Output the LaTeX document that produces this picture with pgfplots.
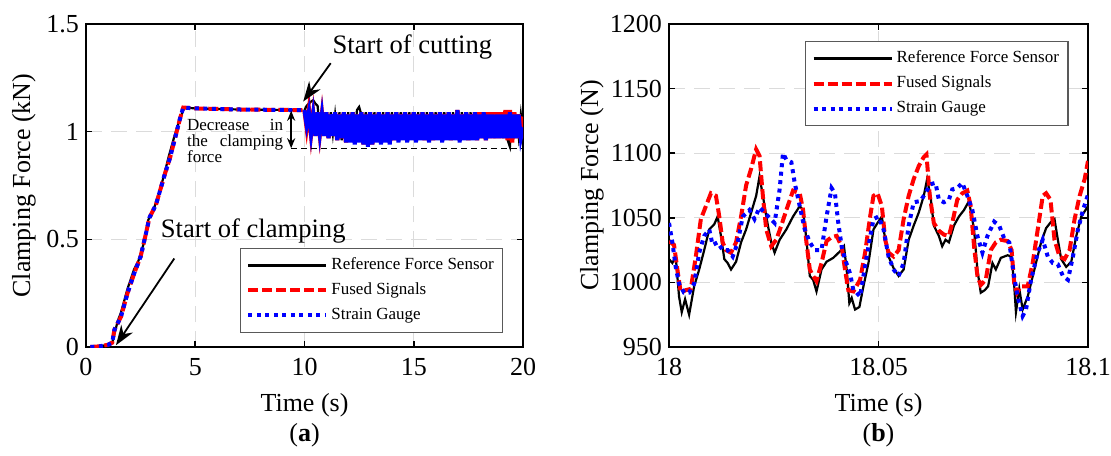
\documentclass[border=0pt]{standalone}
\usepackage{fontspec}
\setmainfont{Liberation Serif}
\usepackage{pgfplots}
\usepackage{pgfplotstable}
\pgfplotsset{compat=1.18}
\usetikzlibrary{arrows.meta}

\pgfplotstableread{
t ref fus sg
10.0 1.10 1.10 1.10
10.1 1.12 1.02 1.03
10.2 1.13 1.10 1.09
10.3 1.14 0.99 0.99
10.4 1.146 1.08 1.08
10.5 1.13 0.98 0.98
10.6 1.12 1.09 1.09
10.7 1.00 0.99 0.99
10.8 1.10 1.08 1.08
10.9 0.99 0.98 0.98
11.0 1.09 1.09 1.09
11.1 0.98 0.97 0.97
11.2 1.09 1.08 1.08
11.3 0.99 0.98 0.98
11.4 1.08 1.09 1.09
11.5 0.98 0.96 0.96
11.6 1.09 1.08 1.08
11.7 0.96 0.97 0.97
11.8 1.08 1.09 1.09
11.9 0.96 0.95 0.95
12.0 1.09 1.08 1.08
12.1 0.97 0.96 0.95
12.2 1.08 1.09 1.09
12.3 0.98 0.95 0.94
12.4 1.10 1.08 1.08
12.5 1.115 0.96 0.95
12.6 1.08 1.09 1.09
12.7 0.97 0.94 0.94
12.8 1.09 1.08 1.08
12.9 0.97 0.95 0.93
13.0 1.08 1.09 1.09
13.1 0.97 0.94 0.94
13.2 1.09 1.08 1.08
13.3 0.98 0.96 0.95
13.4 1.08 1.09 1.09
13.5 0.97 0.95 0.94
13.6 1.09 1.08 1.08
13.7 0.98 0.96 0.95
13.8 1.08 1.09 1.09
13.9 0.97 0.95 0.94
14.0 1.09 1.08 1.08
14.1 0.98 0.96 0.96
14.2 1.08 1.09 1.09
14.3 0.97 0.96 0.95
14.4 1.09 1.08 1.08
14.5 0.98 0.97 0.96
14.6 1.08 1.09 1.09
14.7 0.97 0.96 0.95
14.8 1.09 1.08 1.08
14.9 0.98 0.97 0.96
15.0 1.08 1.09 1.09
15.1 0.97 0.96 0.95
15.2 1.09 1.08 1.08
15.3 0.98 0.97 0.96
15.4 1.08 1.09 1.09
15.5 0.97 0.96 0.96
15.6 1.09 1.08 1.08
15.7 0.98 0.97 0.95
15.8 1.08 1.09 1.09
15.9 0.97 0.96 0.96
16.0 1.09 1.08 1.08
16.1 0.98 0.97 0.96
16.2 1.08 1.09 1.09
16.3 0.97 0.96 0.95
16.4 1.09 1.08 1.08
16.5 0.98 0.97 0.96
16.6 1.08 1.09 1.09
16.7 0.97 0.96 0.96
16.8 1.09 1.08 1.08
16.9 0.98 0.97 0.96
17.0 1.08 1.10 1.10
17.1 0.97 0.96 0.95
17.2 1.09 1.08 1.08
17.3 0.98 0.97 0.96
17.4 1.08 1.09 1.09
17.5 0.97 0.96 0.96
17.6 1.09 1.08 1.08
17.7 0.98 0.97 0.96
17.8 1.08 1.09 1.09
17.9 0.97 0.96 0.96
18.0 1.09 1.09 1.08
18.1 0.98 0.97 0.97
18.2 1.08 1.09 1.09
18.3 0.97 0.96 0.96
18.4 1.09 1.09 1.08
18.5 0.98 0.97 0.97
18.6 1.08 1.09 1.08
18.7 0.97 0.97 0.97
18.8 1.09 1.09 1.08
18.9 0.98 0.97 0.97
19.0 1.08 1.09 1.08
19.1 0.97 0.97 0.97
19.2 1.09 1.10 1.08
19.3 0.96 0.96 0.97
19.4 0.93 1.10 1.09
19.5 1.08 0.95 0.97
19.6 0.97 1.09 1.08
19.7 1.08 0.97 0.97
19.8 0.98 1.08 1.08
19.9 1.08 0.97 0.97
20.0 0.99 1.07 1.02
}\bandtable

\pgfplotsset{
  myaxis/.style={
    scale only axis,
    height=161.5pt,
    clip mode=individual,
    font=\fontsize{13}{15}\selectfont,
    tick label style={font=\fontsize{13}{15}\selectfont},
    /pgf/number format/assume math mode=true,
    /pgf/number format/1000 sep={},
    axis line style={line width=1.2pt},
    tick align=inside,
    major tick length=3pt,
    tick style={black, line width=0.8pt},
    grid=major,
    major grid style={gray!28, line width=0.5pt, dash pattern=on 8pt off 4.5pt},
    xticklabel style={yshift=-2pt},
    every axis x label/.style={at={(rel axis cs:0.5,0)}, yshift=-29pt, anchor=center},
    legend cell align=left,
    legend image code/.code={\draw[##1,line cap=butt] (0pt,0pt) -- (39pt,0pt);},
    legend style={draw=black!65, line width=0.6pt, fill=white,
      font=\fontsize{8.5}{9.5}\selectfont, anchor=north west,
      inner xsep=3pt, inner ysep=3pt, row sep=1.7pt,
      nodes={inner sep=1.5pt, text height=6pt, text depth=1.8pt}},
  },
  refstyle/.style={black, line width=1.1pt},
  fusstyle/.style={red, line width=2pt, dash pattern=on 5pt off 2pt},
  sgstyle/.style={blue, line width=2pt, dash pattern=on 2pt off 2.25pt},
}

\begin{document}
\begin{tikzpicture}
\path[use as bounding box] (-43pt,-54pt) rectangle (512.5pt,173.5pt);

\begin{axis}[myaxis,
  at={(0pt,0pt)}, anchor=south west,
  width=218.5pt,
  xmin=0, xmax=20, ymin=0, ymax=1.5,
  xtick={0,5,10,15,20}, ytick={0,0.5,1,1.5},
  yticklabels={0,0.5,1,1.5},
  every axis y label/.style={at={(rel axis cs:0,0.5)}, xshift=-31pt, rotate=90, anchor=center},
  xlabel={Time (s)}, ylabel={Clamping Force (kN)},
  legend style={at={(0.352,0.3065)}},
]
\addplot[refstyle] coordinates {(0.2,0) (0.6,0.003) (1.0,0.01) (1.2,0.02) (1.3,0.06) (1.45,0.12) (1.6,0.16) (1.9,0.27) (2.2,0.36) (2.4,0.40) (2.7,0.50) (2.85,0.59) (3.1,0.64) (3.3,0.70) (3.55,0.79) (3.8,0.89) (4.05,0.98) (4.3,1.06) (4.5,1.112) (5,1.108) (7,1.103) (9.9,1.10)};
\addlegendentry{Reference Force Sensor}
\addplot[fusstyle] coordinates {(0.2,0) (0.6,0.003) (1.0,0.01) (1.2,0.02) (1.3,0.08) (1.45,0.11) (1.6,0.14) (1.9,0.25) (2.2,0.34) (2.5,0.42) (2.75,0.53) (2.9,0.60) (3.2,0.66) (3.4,0.73) (3.6,0.80) (3.85,0.88) (4.1,0.98) (4.3,1.06) (4.45,1.112) (5,1.108) (7,1.103) (9.9,1.10)};
\addlegendentry{Fused Signals}
\addplot[sgstyle] coordinates {(0.2,0) (0.6,0.003) (1.0,0.01) (1.2,0.02) (1.3,0.08) (1.45,0.11) (1.6,0.14) (1.9,0.25) (2.2,0.34) (2.5,0.42) (2.75,0.53) (2.9,0.60) (3.2,0.66) (3.4,0.73) (3.6,0.80) (3.85,0.88) (4.1,0.98) (4.3,1.06) (4.45,1.112) (5,1.108) (7,1.103) (9.9,1.10)};
\addlegendentry{Strain Gauge}
\addplot[refstyle, forget plot] table[x=t, y=ref] {\bandtable};
\addplot[red, line width=2.2pt, forget plot] table[x=t, y=fus] {\bandtable};
\addplot[blue, line width=2pt, forget plot] table[x=t, y=sg] {\bandtable};

\draw[black, line width=0.6pt, dash pattern=on 3pt off 2pt] (axis cs:9.39,0.92) -- (axis cs:20,0.92);
\draw[{Stealth[length=5pt,width=4pt]}-{Stealth[length=5pt,width=4pt]}, line width=0.8pt] (axis cs:9.39,1.097) -- (axis cs:9.39,0.923);
\draw[-{Stealth[length=10pt,width=7pt]}, line width=0.9pt] (axis cs:11.2,1.318) -- (axis cs:9.94,1.14);
\draw[-{Stealth[length=10pt,width=7pt]}, line width=0.9pt] (axis cs:4.04,0.411) -- (axis cs:1.37,0.008);
\node[anchor=base west, inner sep=0pt, font=\fontsize{13.3}{15}\selectfont] at (axis cs:11.27,1.362) {Start of cutting};
\node[anchor=base west, inner sep=0pt, font=\fontsize{13.3}{15}\selectfont] at (axis cs:3.41,0.509) {Start of clamping};
\node[anchor=north west, inner sep=0pt, text width=48pt, align=justify, font=\fontsize{8.5}{8}\selectfont] at (axis cs:4.61,1.058) {Decrease in the clamping force};
\node[font=\fontsize{13}{15}\selectfont] at (rel axis cs:0.5,0) [yshift=-44pt] {(\textbf{a})};
\end{axis}

\begin{axis}[myaxis,
  at={(291.5pt,0pt)}, anchor=south west,
  width=209.5pt,
  xmin=18, xmax=18.1, ymin=950, ymax=1200,
  xtick={18,18.05,18.1}, xticklabels={18,18.05,18.1},
  ytick={950,1000,1050,1100,1150,1200},
  yticklabels={950,1000,1050,1100,1150,1200},
  every axis y label/.style={at={(rel axis cs:0,0.5)}, xshift=-38.5pt, rotate=90, anchor=center},
  xlabel={Time (s)}, ylabel={Clamping Force (N)},
  legend style={at={(0.3246,0.947)}},
]
\addplot[refstyle] coordinates {(18.0000,1018) (18.0008,1015) (18.0016,1020) (18.0024,989) (18.00304,977) (18.00384,987) (18.0048,975) (18.0060,997) (18.0072,1010) (18.0084,1025) (18.0096,1041) (18.0108,1045) (18.0116,1051) (18.0124,1036) (18.0132,1018) (18.0140,1015) (18.0148,1010) (18.0160,1016) (18.0172,1031) (18.0184,1041) (18.0196,1054) (18.0208,1067) (18.0216,1082) (18.0224,1067) (18.0236,1044) (18.0244,1031) (18.0252,1023) (18.0264,1033) (18.0280,1041) (18.0296,1051) (18.0312,1059) (18.0320,1056) (18.0328,1033) (18.0336,1005) (18.0344,1002) (18.0352,993) (18.0364,1010) (18.0376,1016) (18.0392,1019) (18.0408,1024) (18.04176,1028) (18.0424,1010) (18.04304,984) (18.0436,988) (18.0444,979) (18.04544,981) (18.0464,997) (18.0476,1015) (18.0488,1041) (18.04976,1046) (18.0508,1051) (18.0516,1033) (18.0524,1020) (18.0536,1011) (18.0548,1005) (18.0560,1010) (18.0572,1033) (18.0584,1044) (18.0596,1054) (18.0608,1067) (18.0616,1080) (18.0624,1067) (18.0632,1044) (18.0644,1036) (18.0652,1028) (18.0660,1033) (18.0668,1031) (18.0680,1044) (18.0692,1051) (18.0704,1056) (18.0716,1063) (18.0728,1041) (18.0736,1010) (18.0744,992) (18.07536,994) (18.07616,997) (18.0772,1015) (18.0780,1010) (18.0792,1019) (18.0808,1021) (18.08176,1020) (18.0824,997) (18.0828,977) (18.0836,995) (18.0844,979) (18.0856,989) (18.0872,1010) (18.0888,1031) (18.0900,1042) (18.0912,1047) (18.0920,1049) (18.0928,1033) (18.0936,1018) (18.0948,1012) (18.0960,1016) (18.0972,1036) (18.0984,1051) (18.1000,1059)};
\addlegendentry{Reference Force Sensor}
\addplot[fusstyle] coordinates {(18.0000,1032) (18.0012,1029) (18.0020,1010) (18.0028,992) (18.0040,994) (18.0052,995) (18.0064,1020) (18.0076,1049) (18.0088,1059) (18.0100,1069) (18.0112,1067) (18.0120,1051) (18.0128,1031) (18.0136,1025) (18.0148,1023) (18.0160,1031) (18.0172,1051) (18.0184,1075) (18.0196,1088) (18.0208,1103) (18.0216,1098) (18.0224,1067) (18.0232,1041) (18.0244,1028) (18.0256,1033) (18.0268,1044) (18.0280,1056) (18.0296,1071) (18.0312,1069) (18.0320,1056) (18.0328,1031) (18.0336,1010) (18.0344,1005) (18.0352,1001) (18.0364,1015) (18.0376,1032) (18.0388,1035) (18.0400,1036) (18.0412,1028) (18.0420,1010) (18.0428,994) (18.0440,993) (18.0456,1002) (18.0468,1023) (18.0480,1051) (18.0488,1067) (18.04976,1069) (18.0508,1059) (18.0516,1033) (18.0524,1023) (18.0536,1020) (18.0548,1025) (18.0560,1049) (18.0572,1067) (18.0584,1080) (18.0596,1090) (18.0608,1097) (18.06144,1099) (18.06224,1067) (18.0632,1046) (18.0644,1040) (18.0656,1037) (18.0668,1036) (18.0676,1046) (18.0688,1064) (18.0700,1069) (18.0712,1071) (18.0720,1059) (18.0728,1028) (18.0736,1005) (18.0744,998) (18.0756,1002) (18.0768,1025) (18.0780,1031) (18.0792,1033) (18.0808,1032) (18.08176,1025) (18.0824,999) (18.08304,992) (18.0840,997) (18.0856,997) (18.0868,1015) (18.0880,1041) (18.0892,1067) (18.0900,1069) (18.09104,1064) (18.0920,1033) (18.0932,1020) (18.0944,1018) (18.0956,1025) (18.0968,1049) (18.0980,1067) (18.0992,1080) (18.1000,1094)};
\addlegendentry{Fused Signals}
\addplot[sgstyle] coordinates {(18.0000,1046) (18.0008,1031) (18.0016,1012) (18.0024,999) (18.0036,992) (18.0048,992) (18.0060,999) (18.0072,1023) (18.0084,1036) (18.0096,1041) (18.0104,1029) (18.0116,1031) (18.0128,1025) (18.0140,1025) (18.0152,1020) (18.0164,1031) (18.0176,1051) (18.0192,1056) (18.0204,1049) (18.0216,1058) (18.0228,1054) (18.0240,1050) (18.0252,1046) (18.0264,1072) (18.0272,1100) (18.0280,1095) (18.0292,1093) (18.0300,1077) (18.0312,1059) (18.0324,1041) (18.0336,1031) (18.0348,1025) (18.0364,1025) (18.0376,1051) (18.0388,1073) (18.0396,1069) (18.0404,1046) (18.0412,1028) (18.0420,1018) (18.0432,1007) (18.0440,994) (18.0448,992) (18.0456,989) (18.0464,1005) (18.0476,1028) (18.0488,1049) (18.0500,1051) (18.0512,1041) (18.0524,1020) (18.0536,1010) (18.0548,1005) (18.0560,1015) (18.0572,1044) (18.0584,1062) (18.0600,1063) (18.0612,1069) (18.0624,1076) (18.0636,1077) (18.0644,1064) (18.0656,1062) (18.0668,1064) (18.0676,1072) (18.0688,1073) (18.0700,1077) (18.0712,1067) (18.0724,1056) (18.0736,1036) (18.0748,1023) (18.0760,1036) (18.0776,1047) (18.0788,1044) (18.0800,1034) (18.0812,1031) (18.08224,1007) (18.0832,989) (18.0844,974) (18.0852,979) (18.0864,1002) (18.0880,1023) (18.0892,1033) (18.0904,1020) (18.0916,1015) (18.0928,1014) (18.0940,1005) (18.0952,1002) (18.0964,1020) (18.0976,1041) (18.0988,1056) (18.1000,1068)};
\addlegendentry{Strain Gauge}
\node[font=\fontsize{13}{15}\selectfont] at (rel axis cs:0.5,0) [yshift=-44pt] {(\textbf{b})};
\end{axis}
\end{tikzpicture}
\end{document}
